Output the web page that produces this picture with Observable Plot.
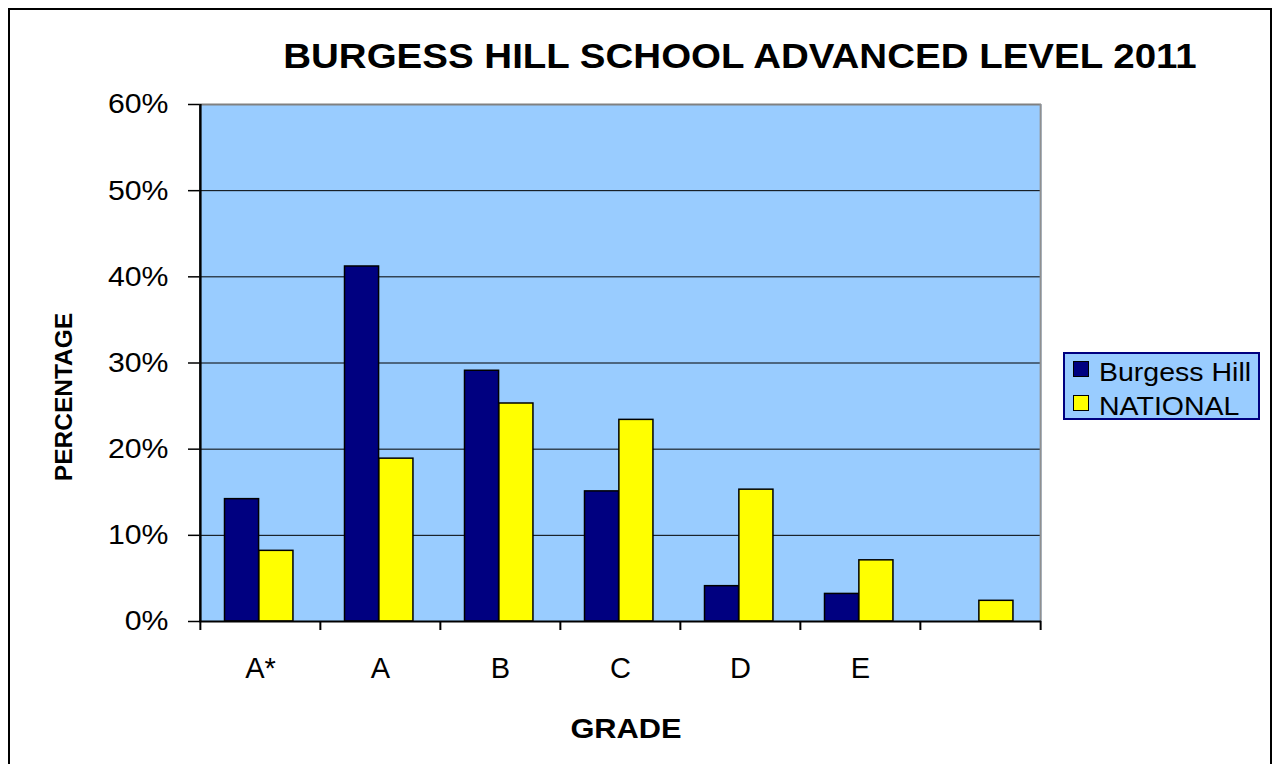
<!DOCTYPE html>
<html>
<head>
<meta charset="utf-8">
<script src="https://cdn.jsdelivr.net/npm/d3@7"></script>
<script src="https://cdn.jsdelivr.net/npm/@observablehq/plot@0.6"></script>
<style>
  html, body { margin: 0; padding: 0; width: 1273px; height: 764px; overflow: hidden; background: #fff;
    font-family: "Liberation Sans", Arial, sans-serif; color: #000; }
  #box { position: absolute; left: 8px; top: 8px; width: 1264px; height: 820px; border: 2px solid #000; box-sizing: border-box; }
  #chart { position: absolute; left: 0; top: 0; }
  .abs { position: absolute; white-space: nowrap; line-height: 1; }
  #title { left: 739.5px; top: 38px; font-size: 35px; font-weight: bold; transform: translateX(-50%) scaleX(1.1); }
  #ylab { left: 64px; top: 397px; font-size: 24.5px; font-weight: bold; transform: translate(-50%, -50%) rotate(-90deg); }
  #xlab { left: 626px; top: 715px; font-size: 28px; font-weight: bold; transform: translateX(-50%) scaleX(1.1); }
  #legend { position: absolute; left: 1063px; top: 352px; width: 197px; height: 68px; box-sizing: border-box;
    border: 2px solid #000080; background: #99ccff; }
  .sw { position: absolute; width: 16px; height: 16px; box-sizing: border-box; border: 1.5px solid #000; }
  .lt { position: absolute; font-size: 25px; line-height: 1; white-space: nowrap; transform-origin: left center; transform: scaleX(1.14); }
</style>
</head>
<body>
<div id="box"></div>
<div id="chart"></div>
<div id="title" class="abs"></div>
<div id="ylab" class="abs"></div>
<div id="xlab" class="abs"></div>
<div id="legend"></div>
<script>
// ---- data ----
const grades = ["A*", "A", "B", "C", "D", "E", ""];
const burgessHill = [0.142, 0.412, 0.291, 0.151, 0.041, 0.032, null];
const national = [0.082, 0.189, 0.253, 0.234, 0.153, 0.071, 0.024];
const yTicks = [0, 0.1, 0.2, 0.3, 0.4, 0.5, 0.6];
const seriesNames = ["Burgess Hill", "NATIONAL"];
const seriesColors = ["#000080", "#ffff00"];
const titleText = "BURGESS HILL SCHOOL ADVANCED LEVEL 2011";
const yTitle = "PERCENTAGE";
const xTitle = "GRADE";

// ---- layout ----
const W = 1273, H = 764, mL = 199, mR = 232, mT = 104, mB = 143;
const bw = (W - mL - mR) / grades.length;
const barW = bw / 3.5;
const off = 24.5;
const frameH = H - mT - mB;
const rows = grades.map((g, i) => ({grade: g, bh: burgessHill[i], nat: national[i]}));
const last = grades[grades.length - 1];

const chart = Plot.plot({
  width: W, height: H,
  marginLeft: mL, marginRight: mR, marginTop: mT, marginBottom: mB,
  style: {fontFamily: '"Liberation Sans", Arial, sans-serif', background: "transparent", overflow: "visible", color: "#000"},
  x: {type: "band", domain: grades, padding: 0, axis: null},
  y: {domain: [0, 0.6], axis: null},
  marks: [
    Plot.frame({fill: "#99ccff", stroke: "none"}),
    Plot.ruleY(yTicks.slice(1, -1), {stroke: "#000", strokeWidth: 1}),
    Plot.barY(rows, {x: "grade", y: "bh", fill: seriesColors[0], stroke: "#000", strokeWidth: 1.5,
      insetLeft: off, insetRight: bw - off - barW}),
    Plot.barY(rows, {x: "grade", y: "nat", fill: seriesColors[1], stroke: "#000", strokeWidth: 1.5,
      insetLeft: off + barW, insetRight: bw - off - 2 * barW}),
    Plot.ruleY([0.6], {stroke: "#808080", strokeWidth: 2}),
    Plot.ruleX([last], {x: d => d, dx: bw / 2, stroke: "#909090", strokeWidth: 2}),
    Plot.ruleX([grades[0]], {x: d => d, dx: -bw / 2, stroke: "#000", strokeWidth: 2.5}),
    Plot.ruleY([0], {stroke: "#000", strokeWidth: 2}),
    Plot.ruleX(grades, {x: d => d, dx: -bw / 2, insetTop: frameH, insetBottom: -9, stroke: "#000", strokeWidth: 2}),
    Plot.ruleX([last], {x: d => d, dx: bw / 2, insetTop: frameH, insetBottom: -9, stroke: "#000", strokeWidth: 2}),
    Plot.axisY(yTicks, {tickSize: 11, tickPadding: 20, tickFormat: d3.format(".0%"), label: null,
      fontSize: 28, stroke: "#000", strokeWidth: 1.5}),
    Plot.axisX(grades, {tickSize: 0, tickPadding: 36, label: null, fontSize: 29, tickFormat: d => d})
  ]
});
document.getElementById("chart").appendChild(chart);
chart.querySelectorAll('g[aria-label="y-axis tick label"] text').forEach(t => {
  const tr = t.getAttribute("transform");
  if (tr) t.setAttribute("transform", tr + " scale(1.08,1)");
});

document.getElementById("title").textContent = titleText;
document.getElementById("ylab").textContent = yTitle;
document.getElementById("xlab").textContent = xTitle;

const legend = document.getElementById("legend");
seriesNames.forEach((name, i) => {
  const sw = document.createElement("div");
  sw.className = "sw";
  sw.style.left = "8px";
  sw.style.top = (7 + i * 34) + "px";
  sw.style.background = seriesColors[i];
  legend.appendChild(sw);
  const t = document.createElement("div");
  t.className = "lt";
  t.style.left = "34px";
  t.style.top = (6 + i * 34) + "px";
  t.textContent = name;
  legend.appendChild(t);
});
</script>
</body>
</html>
